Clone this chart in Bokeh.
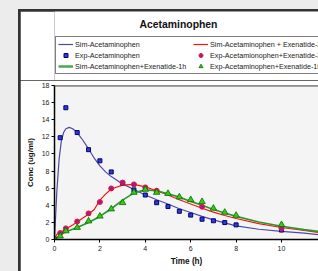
from bokeh.plotting import figure
from bokeh.layouts import column
from bokeh.models import Legend, LegendItem, Label, Span, Range1d
from bokeh.embed import file_html
from bokeh.resources import INLINE

FONT = "Liberation Sans"

# ---- data ----
t_sim = [0, 0.1, 0.2, 0.3, 0.4, 0.5, 0.65, 0.8, 1.0, 1.25, 1.5, 1.75, 2.0, 2.25, 2.5,
         3.0, 3.5, 4.0, 4.5, 5.0, 5.5, 6.0, 6.5, 7.0, 7.5, 8.0, 9.0, 10.0, 11.0, 12.0]
sim_acet = [0, 5.5, 9.3, 11.5, 12.5, 12.95, 13.1, 12.95, 12.5, 11.6, 10.6, 9.5, 8.6, 7.9, 7.35,
            6.5, 5.85, 5.2, 4.65, 4.15, 3.6, 3.15, 2.7, 2.3, 1.95, 1.6, 1.2, 0.95, 0.75, 0.45]
sim_exe2h = [0, 0.6, 0.8, 0.9, 1.05, 1.2, 1.45, 1.7, 2.05, 2.5, 2.95, 3.5, 4.6, 5.3, 5.9,
             6.35, 6.45, 6.15, 5.7, 5.2, 4.65, 4.15, 3.65, 3.2, 2.8, 2.45, 1.85, 1.4, 1.05, 0.7]
sim_exe1h = [0, 0.2, 0.4, 0.6, 0.75, 0.9, 1.05, 1.2, 1.4, 1.7, 2.0, 2.35, 2.7, 3.15, 3.6,
             4.6, 5.45, 5.8, 5.7, 5.35, 4.95, 4.45, 4.0, 3.5, 3.1, 2.7, 2.05, 1.55, 1.15, 0.8]

t_exp_acet = [0, 0.25, 0.5, 1, 1.5, 2, 2.5, 3, 3.5, 4, 4.5, 5, 5.5, 6, 6.5, 7, 7.5, 8, 10]
exp_acet = [0, 11.9, 15.4, 12.5, 10.5, 9.2, 7.9, 6.6, 5.8, 5.2, 4.3, 3.85, 3.3, 2.85, 2.37,
            2.19, 1.98, 1.71, 1.1]

t_exp_exe2h = [0.25, 0.5, 1, 1.5, 2, 2.5, 3, 3.5, 4, 4.5, 6.5, 10]
exp_exe2h = [0.75, 1.3, 2.1, 3.05, 4.38, 5.97, 6.65, 6.44, 6.09, 5.7, 3.83, 1.3]

t_exp_exe1h = [0, 0.25, 0.5, 1, 1.5, 2, 2.5, 3, 3.5, 4, 4.5, 5, 5.5, 6, 6.5, 7, 7.5, 8, 10]
exp_exe1h = [0.05, 0.4, 1.0, 1.4, 2.15, 2.72, 3.56, 4.3, 5.5, 5.85, 5.5, 5.37, 4.96, 4.65,
             4.42, 3.64, 3.17, 2.81, 1.73]

x_ticks = [0, 2, 4, 6, 8, 10, 12]
y_ticks = [0, 2, 4, 6, 8, 10, 12, 14, 16, 18]

title_text = "Acetaminophen"
x_label = "Time (h)"
y_label = "Conc (ug/ml)"
names = ["Sim-Acetaminophen", "Exp-Acetaminophen", "Sim-Acetaminophen+Exenatide-1h",
         "Sim-Acetaminophen + Exenatide-2h", "Exp-Acetamionophen+Exenatide-2h",
         "Exp-Acetaminophen+Exenatide-1h"]

# ---- styles ----
blue_line = dict(line_color="#4a4aa8", line_width=1.2)
red_line = dict(line_color="#ff1010", line_width=1.2)
green_line = dict(line_color="#2a9a2a", line_width=1.7)
green_line_key = dict(line_color="#4aaa4a", line_width=2.5)
blue_sq = dict(marker="square", size=4, fill_color="#2f3fc0", line_color="#000080", line_width=1)
red_ci = dict(marker="circle", size=5, fill_color="#a0207a", line_color="#ee1040", line_width=1)
green_tr = dict(marker="triangle", size=6.5, fill_color="#33cc11", line_color="#0a6a0a", line_width=0.8)

# ---- header (title + legend); its frame aligns with the main plot frame ----
head = figure(width=298, height=69, x_range=Range1d(0, 1), y_range=Range1d(0, 1),
              output_backend="svg", toolbar_location=None, title=None,
              x_axis_type=None, y_axis_type=None,
              min_border=0, margin=(2, 0, 0, 2))
head.outline_line_color = None
head.grid.visible = False
head.background_fill_color = "white"
head.border_fill_color = "white"

# hidden copies of the series, used only as legend entries
h1 = head.line(t_sim, sim_acet, visible=False, **blue_line)
h3 = head.line(t_sim, sim_exe2h, visible=False, **red_line)
h5 = head.line(t_sim, sim_exe1h, visible=False, **green_line_key)
h2 = head.scatter(t_exp_acet, exp_acet, visible=False, **blue_sq)
h4 = head.scatter(t_exp_exe2h, exp_exe2h, visible=False, **red_ci)
h6 = head.scatter(t_exp_exe1h, exp_exe1h, visible=False, **green_tr)

legend = Legend(items=[
    LegendItem(label=names[0], renderers=[h1]),
    LegendItem(label=names[1], renderers=[h2]),
    LegendItem(label=names[2], renderers=[h5]),
    LegendItem(label=names[3], renderers=[h3]),
    LegendItem(label=names[4], renderers=[h4]),
    LegendItem(label=names[5], renderers=[h6]),
], ncols=2, location=(1, 6))
legend.label_text_font = FONT
legend.label_text_font_size = "7.2px"
legend.label_text_color = "#222222"
legend.label_height = 10
legend.label_width = 117
legend.glyph_height = 10
legend.glyph_width = 15
legend.label_standoff = 2
legend.spacing = 1
legend.padding = 2
legend.margin = 0
legend.border_line_color = "black"
legend.border_line_width = 1
legend.background_fill_color = "white"
legend.background_fill_alpha = 1
legend.inactive_fill_alpha = 0
head.add_layout(legend, "center")

head.add_layout(Label(x=124, y=56, x_units="screen", y_units="screen", text=title_text,
                      text_font=FONT, text_font_style="bold", text_font_size="10.4px",
                      text_align="center", text_baseline="middle", text_color="#111111"))

# ---- main plot ----
p = figure(width=298, height=191, x_range=Range1d(0, 11.63), y_range=Range1d(0, 18),
           output_backend="svg", toolbar_location=None, title=None,
           min_border_left=34, min_border_right=0, min_border_top=5, min_border_bottom=32,
           margin=(0, 0, 0, 2))
p.background_fill_color = "#f4f4f4"
p.border_fill_color = "white"
p.outline_line_color = None
p.grid.visible = False

for ax in (p.xaxis[0], p.yaxis[0]):
    ax.axis_line_color = "black"
    ax.axis_line_width = 1.5
    ax.major_tick_line_color = "black"
    ax.major_tick_out = 3
    ax.major_tick_in = 0
    ax.minor_tick_line_color = None
    ax.major_label_text_font = FONT
    ax.major_label_text_font_size = "7px"
    ax.major_label_text_color = "#222222"
    ax.axis_label_text_font = FONT
    ax.axis_label_text_font_style = "bold"
    ax.axis_label_text_color = "#111111"

p.xaxis.ticker = x_ticks
p.yaxis.ticker = y_ticks
p.xaxis.axis_label = x_label
p.yaxis.axis_label = y_label
p.xaxis.axis_label_text_font_size = "8.2px"
p.yaxis.axis_label_text_font_size = "8px"
p.xaxis.major_label_standoff = 3
p.xaxis.axis_label_standoff = 3
p.yaxis.major_label_standoff = 2
p.yaxis.axis_label_standoff = 4

p.add_layout(Span(location=18, dimension="width", line_color="#555555", line_width=2))

p.line(t_sim, sim_acet, **blue_line)
p.line(t_sim, sim_exe2h, **red_line)
p.line(t_sim, sim_exe1h, **green_line)
p.scatter(t_exp_acet, exp_acet, **blue_sq)
p.scatter(t_exp_exe2h, exp_exe2h, **red_ci)
p.scatter(t_exp_exe1h, exp_exe1h, **green_tr)

inner = column(head, p, margin=(9, 0, 0, 18), styles={"background-color": "#333333"})
outer = column(inner, styles={"background-color": "#ececec"})

open("out.html", "w").write(file_html(outer, INLINE))
